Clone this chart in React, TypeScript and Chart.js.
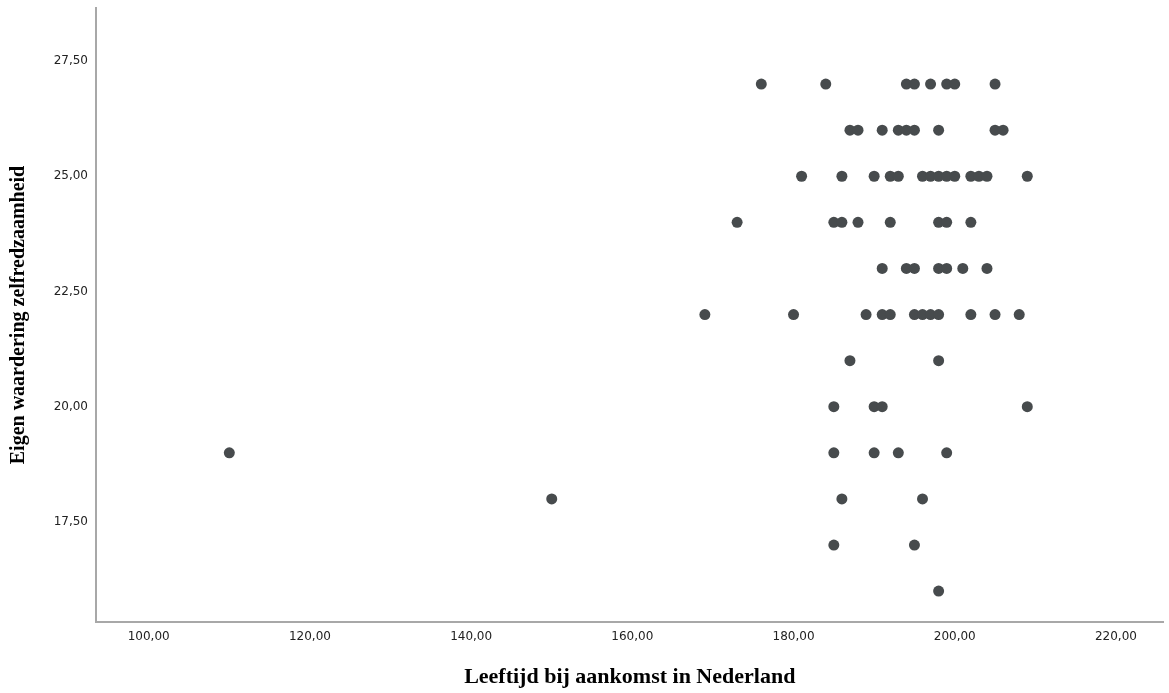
import { useEffect, useRef } from "react";
import { Chart, registerables } from "chart.js";

Chart.register(...registerables);

// Leeftijd bij aankomst (x) and Eigen waardering zelfredzaamheid (y), one line per score level
const leeftijd: number[] = [
  176, 184, 194, 195, 197, 199, 200, 205,
  187, 188, 191, 193, 194, 195, 198, 205, 206,
  181, 186, 190, 192, 193, 196, 197, 198, 199, 200, 202, 203, 204, 209,
  173, 185, 186, 188, 192, 198, 199, 202,
  191, 194, 195, 198, 199, 201, 204,
  169, 180, 189, 191, 192, 195, 196, 197, 198, 202, 205, 208,
  187, 198,
  185, 190, 191, 209,
  110, 185, 190, 193, 199,
  150, 186, 196,
  185, 195,
  198,
];

const zelfredzaamheid: number[] = [
  27, 27, 27, 27, 27, 27, 27, 27,
  26, 26, 26, 26, 26, 26, 26, 26, 26,
  25, 25, 25, 25, 25, 25, 25, 25, 25, 25, 25, 25, 25, 25,
  24, 24, 24, 24, 24, 24, 24, 24,
  23, 23, 23, 23, 23, 23, 23,
  22, 22, 22, 22, 22, 22, 22, 22, 22, 22, 22, 22,
  21, 21,
  20, 20, 20, 20,
  19, 19, 19, 19, 19,
  18, 18, 18,
  17, 17,
  16,
];

const xTicks: number[] = [100, 120, 140, 160, 180, 200, 220];
const yTicks: number[] = [17.5, 20, 22.5, 25, 27.5];

const xTitle = "Leeftijd bij aankomst in Nederland";
const yTitle = "Eigen waardering zelfredzaamheid";

const fmt = (v: number) => v.toFixed(2).replace(".", ",");

export default function App() {
  const ref = useRef<HTMLCanvasElement>(null);

  useEffect(() => {
    if (!ref.current) return;
    const chart = new Chart(ref.current, {
      type: "scatter",
      data: {
        datasets: [
          {
            data: leeftijd.map((x, i) => ({ x, y: zelfredzaamheid[i] })),
            backgroundColor: "#474b4d",
            borderColor: "#474b4d",
            borderWidth: 0,
            pointRadius: 5.5,
            pointHoverRadius: 5.5,
          },
        ],
      },
      options: {
        animation: false,
        responsive: false,
        maintainAspectRatio: false,
        layout: { padding: { top: 8, left: 0, right: 0, bottom: 0 } },
        plugins: {
          legend: { display: false },
          tooltip: { enabled: false },
        },
        scales: {
          x: {
            type: "linear",
            min: 93.46,
            max: 225.9,
            afterBuildTicks: (axis: any) => {
              axis.ticks = xTicks.map((v) => ({ value: v }));
            },
            afterFit: (s: any) => {
              s.height = 71;
              s.paddingLeft = 0;
              s.paddingRight = 0;
            },
            ticks: {
              callback: (v: any) => fmt(Number(v)),
              font: { family: "DejaVu Sans", size: 12 },
              color: "#222222",
              padding: 8,
              maxRotation: 0,
              autoSkip: false,
            },
            grid: { display: false, drawTicks: false },
            border: { display: true, color: "#a8a8a8", width: 2 },
            title: {
              display: true,
              text: xTitle,
              font: { family: "Liberation Serif", size: 22, weight: "bold" },
              color: "#000000",
              padding: { top: 0, bottom: 2 },
            },
          },
          y: {
            type: "linear",
            min: 15.33,
            max: 28.65,
            afterBuildTicks: (axis: any) => {
              axis.ticks = yTicks.map((v) => ({ value: v }));
            },
            afterFit: (s: any) => {
              s.width = 96;
              s.paddingTop = 0;
              s.paddingBottom = 0;
            },
            ticks: {
              callback: (v: any) => fmt(Number(v)),
              font: { family: "DejaVu Sans", size: 12 },
              color: "#222222",
              padding: 8,
              autoSkip: false,
            },
            grid: { display: false, drawTicks: false },
            border: { display: true, color: "#a8a8a8", width: 2 },
            title: {
              display: true,
              text: yTitle,
              font: { family: "Liberation Serif", size: 20, weight: "bold" },
              color: "#000000",
              padding: { top: 7, bottom: 0 },
            },
          },
        },
      },
    });
    return () => chart.destroy();
  }, []);

  return (
    <div style={{ position: "fixed", left: 0, top: 0, width: 1169, height: 693, background: "#ffffff" }}>
      <canvas ref={ref} width={1169} height={693} />
    </div>
  );
}
